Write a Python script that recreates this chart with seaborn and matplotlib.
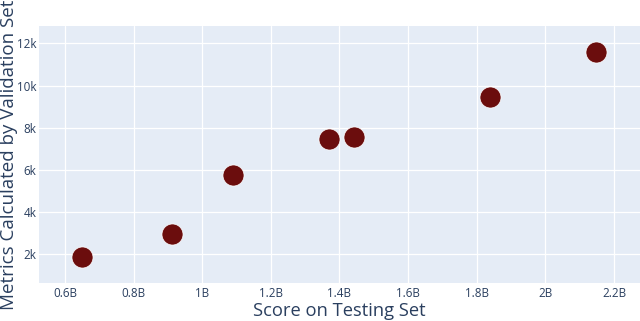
import matplotlib
matplotlib.use("Agg")
import matplotlib.pyplot as plt
import seaborn as sns
import pandas as pd

# Data
score_testing = [0.650e9, 0.911e9, 1.0905e9, 1.370e9, 1.442e9, 1.839e9, 2.148e9]
metrics_validation = [1886, 2962, 5763, 7450, 7545, 9469, 11573]

x_tick_values = [0.6e9, 0.8e9, 1.0e9, 1.2e9, 1.4e9, 1.6e9, 1.8e9, 2.0e9, 2.2e9]
x_tick_labels = ["0.6B", "0.8B", "1B", "1.2B", "1.4B", "1.6B", "1.8B", "2B", "2.2B"]
y_tick_values = [2000, 4000, 6000, 8000, 10000, 12000]
y_tick_labels = ["2k", "4k", "6k", "8k", "10k", "12k"]

df = pd.DataFrame({"x": score_testing, "y": metrics_validation})

sns.set_style("white")
plt.rcParams["font.family"] = ["Open Sans", "DejaVu Sans"]

W, H = 640, 321
fig = plt.figure(figsize=(W / 100, H / 100), dpi=100)
left, right, top, bottom = 39, 640, 26, 282.7
ax = fig.add_axes([left / W, (H - bottom) / H, (right - left) / W, (bottom - top) / H])
ax.set_facecolor("#e5ecf6")

sns.scatterplot(data=df, x="x", y="y", ax=ax, s=230, color="#6b0d0d",
                edgecolor="white", linewidth=0.5, zorder=3, legend=False)

ax.set_xlim(0.5242e9, 2.2759e9)
ax.set_ylim(654, 12820)
ax.set_xticks(x_tick_values)
ax.set_xticklabels(x_tick_labels)
ax.set_yticks(y_tick_values)
ax.set_yticklabels(y_tick_labels)

ax.grid(True, color="white", linewidth=0.9, zorder=0)
ax.set_axisbelow(True)
for s in ax.spines.values():
    s.set_visible(False)

tick_color = "#2a3f5f"
ax.tick_params(axis="both", length=0, labelsize=8.4, colors=tick_color)
ax.tick_params(axis="x", pad=3)
ax.tick_params(axis="y", pad=2)

ax.set_xlabel("")
ax.set_ylabel("")
fig.text(339.5 / W, 1 - 311.5 / H, "Score on Testing Set", ha="center", va="center",
         fontsize=13.2, color=tick_color)
fig.text(9 / W, 1 - 154.5 / H, "Metrics Calculated by Validation Set", ha="center",
         va="center", rotation=90, fontsize=13.5, color=tick_color)

fig.savefig("out.png", dpi=100, facecolor="white")
